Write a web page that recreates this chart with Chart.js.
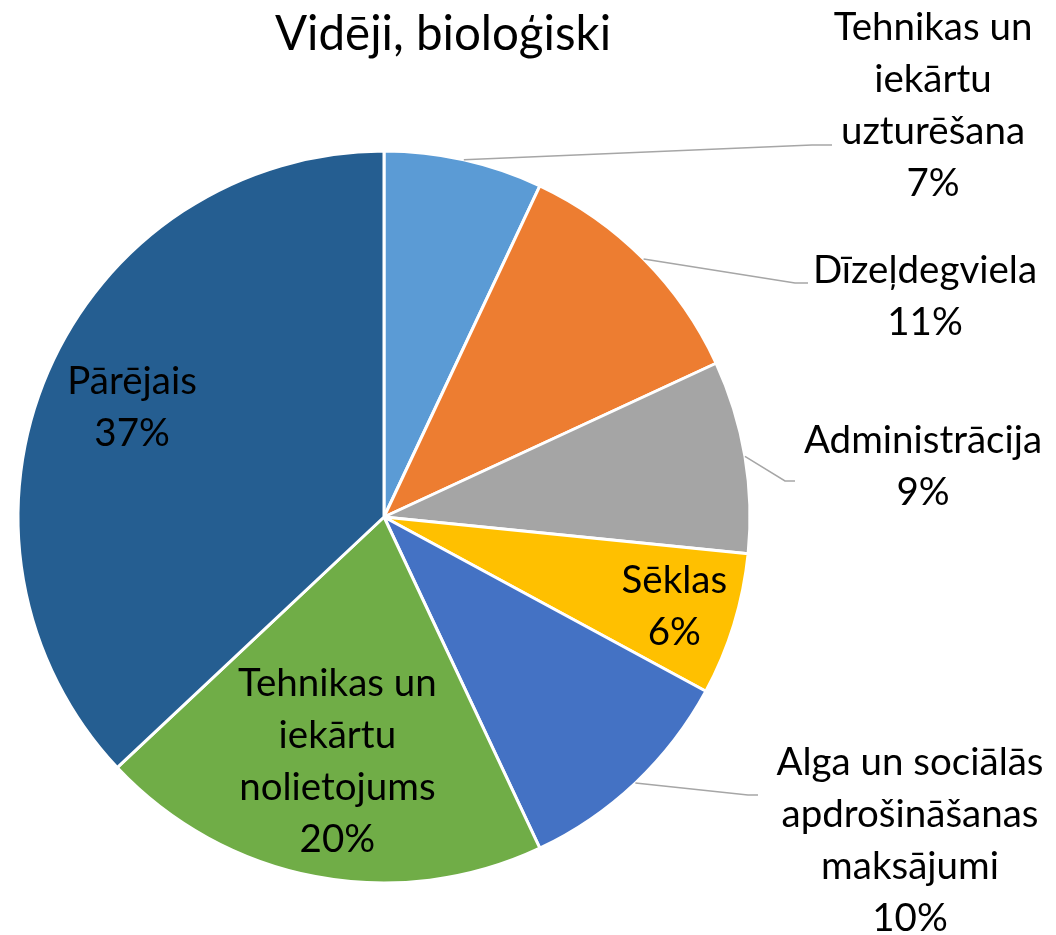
<!DOCTYPE html>
<html>
<head>
<meta charset="utf-8">
<script src="https://cdn.jsdelivr.net/npm/chart.js@4.4.1/dist/chart.umd.min.js"></script>
<style>
  body { margin: 0; background: #fff; }
  #wrap { width: 1056px; height: 935px; }
</style>
</head>
<body>
<div id="wrap"><canvas id="pieChart"></canvas></div>
<script>
const chartTitle = "Vidēji, bioloģiski";
const categories = [
  ["Tehnikas un", "iekārtu", "uzturēšana"],
  ["Dīzeļdegviela"],
  ["Administrācija"],
  ["Sēklas"],
  ["Alga un sociālās", "apdrošināšanas", "maksājumi"],
  ["Tehnikas un", "iekārtu", "nolietojums"],
  ["Pārējais"]
];
const shares = [7.0, 11.1, 8.5, 6.3, 10.1, 20.0, 37.0];
const colors = ["#5B9BD5", "#ED7D31", "#A5A5A5", "#FFC000", "#4472C4", "#70AD47", "#255E91"];

// where each label goes: inside = fraction of radius, otherwise text box + leader elbow
const places = [
  { x: 933, y: 106, ex: 812, ey: 145, tail: 20 },
  { x: 925, y: 297, ex: 795, ey: 283, tail: 13 },
  { x: 923, y: 467, ex: 785, ey: 481, tail: 10 },
  { inside: 0.83 },
  { x: 910, y: 841, ex: 748, ey: 795, tail: 10 },
  { inside: 0.68 },
  { inside: 0.75 }
];

const sliceLabels = {
  id: "sliceLabels",
  afterDatasetsDraw(chart, args, opts) {
    const ctx = chart.ctx;
    const arcs = chart.getDatasetMeta(0).data;
    ctx.save();
    ctx.textAlign = "center";
    ctx.textBaseline = "middle";
    ctx.fillStyle = "#000";
    ctx.strokeStyle = "#A6A6A6";
    ctx.lineWidth = 1.5;
    ctx.font = opts.size + "px " + opts.family;
    arcs.forEach((arc, i) => {
      const p = opts.places[i];
      const mid = (arc.startAngle + arc.endAngle) / 2;
      const lines = categories[i].concat([Math.round(shares[i]) + "%"]);
      let cx, cy;
      if (p.inside != null) {
        cx = arc.x + Math.cos(mid) * arc.outerRadius * p.inside;
        cy = arc.y + Math.sin(mid) * arc.outerRadius * p.inside;
      } else {
        cx = p.x; cy = p.y;
        ctx.beginPath();
        ctx.moveTo(arc.x + Math.cos(mid) * arc.outerRadius, arc.y + Math.sin(mid) * arc.outerRadius);
        ctx.lineTo(p.ex, p.ey);
        ctx.lineTo(p.ex + p.tail, p.ey);
        ctx.stroke();
      }
      lines.forEach((t, k) => {
        ctx.fillText(t, cx, cy + (k - (lines.length - 1) / 2) * opts.lineHeight);
      });
    });
    // title
    ctx.font = opts.titleSize + "px " + opts.family;
    ctx.textBaseline = "alphabetic";
    ctx.fillText(chartTitle, 443, 50);
    ctx.restore();
  }
};

new Chart(document.getElementById("pieChart").getContext("2d"), {
  type: "pie",
  data: {
    labels: categories,
    datasets: [{
      data: shares,
      backgroundColor: colors,
      borderColor: "#ffffff",
      borderWidth: 3
    }]
  },
  options: {
    responsive: true,
    maintainAspectRatio: false,
    animation: false,
    events: [],
    layout: { padding: { left: 16.5, right: 304.5, top: 149.5, bottom: 50.5 } },
    plugins: {
      legend: { display: false },
      tooltip: { enabled: false },
      sliceLabels: { places: places, family: "Lato", size: 38.5, titleSize: 47.5, lineHeight: 52 }
    }
  },
  plugins: [sliceLabels]
});
</script>
</body>
</html>
